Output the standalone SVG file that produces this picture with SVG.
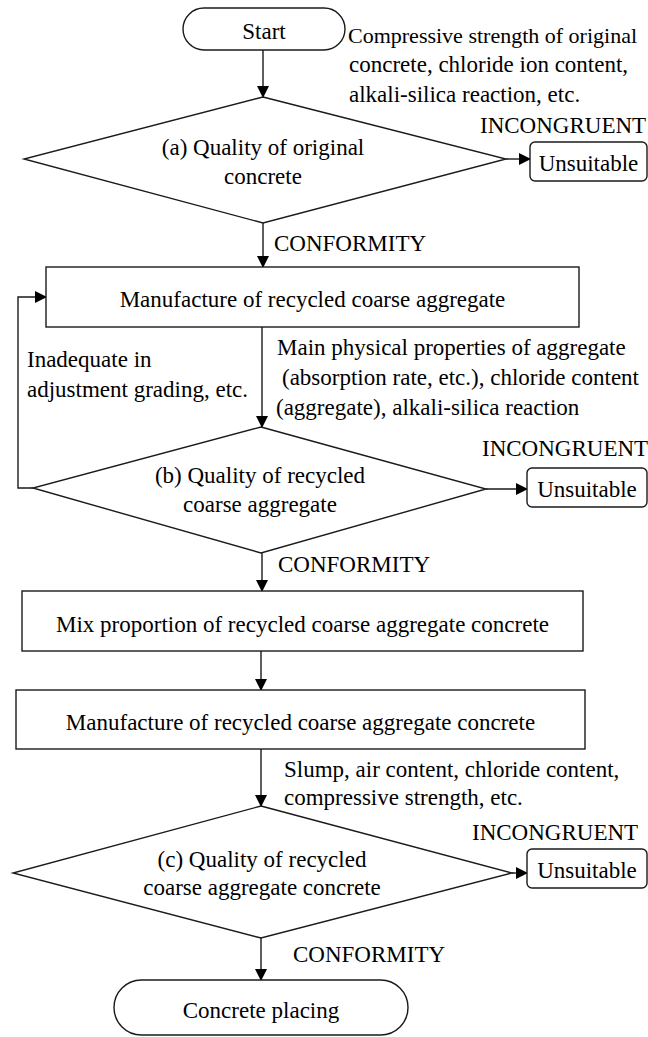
<svg xmlns="http://www.w3.org/2000/svg" width="648" height="1037" viewBox="0 0 648 1037">
<style>
text{font-family:"Liberation Serif","Times New Roman",serif;font-size:23px;fill:#000}
.c{text-anchor:middle}
.s{fill:#fff;stroke:#1a1a1a;stroke-width:1.4}
.l{fill:none;stroke:#1a1a1a;stroke-width:1.4}
</style>
<defs>
<marker id="ah" markerWidth="12" markerHeight="12" refX="11" refY="6" orient="auto" markerUnits="userSpaceOnUse">
<path d="M0,0 L12,6 L0,12 Z" fill="#000"/>
</marker>
</defs>
<rect width="648" height="1037" fill="#fff"/>
<g id="connectors">
<path class="l" d="M263,50 V97" marker-end="url(#ah)"/>
<path class="l" d="M506,159 H530" marker-end="url(#ah)"/>
<path class="l" d="M263,223 V267" marker-end="url(#ah)"/>
<path class="l" d="M262,327 V427" marker-end="url(#ah)"/>
<path class="l" d="M33,488 H18 V297 H46" marker-end="url(#ah)"/>
<path class="l" d="M486,489 H527" marker-end="url(#ah)"/>
<path class="l" d="M262,553 V591" marker-end="url(#ah)"/>
<path class="l" d="M261,651 V690" marker-end="url(#ah)"/>
<path class="l" d="M261,749 V806" marker-end="url(#ah)"/>
<path class="l" d="M512,873 H527" marker-end="url(#ah)"/>
<path class="l" d="M261,938 V980" marker-end="url(#ah)"/>
<text x="480" y="133">INCONGRUENT</text>
<text x="274" y="251">CONFORMITY</text>
<text x="27" y="367">Inadequate in</text>
<text x="27" y="397">adjustment grading, etc.</text>
<text x="277" y="355">Main physical properties of aggregate</text>
<text x="282" y="385">(absorption rate, etc.), chloride content</text>
<text x="276" y="415">(aggregate), alkali-silica reaction</text>
<text x="482" y="456">INCONGRUENT</text>
<text x="278" y="572">CONFORMITY</text>
<text x="284" y="777">Slump, air content, chloride content,</text>
<text x="284" y="805">compressive strength, etc.</text>
<text x="472" y="840">INCONGRUENT</text>
<text x="293" y="962">CONFORMITY</text>
</g>
<g id="start">
<rect class="s" x="183" y="8" width="162" height="42" rx="21"/>
<text class="c" x="264" y="39">Start</text>
</g>
<g id="note-a">
<text x="348" y="43" style="font-size:22px">Compressive strength of original</text>
<text x="349" y="72">concrete, chloride ion content,</text>
<text x="349" y="102">alkali-silica reaction, etc.</text>
</g>
<g id="decision-a">
<polygon class="s" points="263,97 506,159 263,223 24,159"/>
<text class="c" x="263" y="155">(a) Quality of original</text>
<text class="c" x="263" y="184">concrete</text>
</g>
<g id="unsuitable-a">
<rect class="s" x="530" y="142" width="117" height="39" rx="5"/>
<text class="c" x="588.5" y="171">Unsuitable</text>
</g>
<g id="manufacture-aggregate">
<rect class="s" x="46" y="267" width="533" height="60"/>
<text class="c" x="312.5" y="307">Manufacture of recycled coarse aggregate</text>
</g>
<g id="decision-b">
<polygon class="s" points="261,427 486,489 261,553 33,488"/>
<text class="c" x="260" y="483">(b) Quality of recycled</text>
<text class="c" x="260" y="512">coarse aggregate</text>
</g>
<g id="unsuitable-b">
<rect class="s" x="527" y="468" width="120" height="39" rx="5"/>
<text class="c" x="587" y="497">Unsuitable</text>
</g>
<g id="mix">
<rect class="s" x="22" y="591" width="561" height="60"/>
<text class="c" x="302.5" y="632">Mix proportion of recycled coarse aggregate concrete</text>
</g>
<g id="manufacture-concrete">
<rect class="s" x="16" y="690" width="569" height="59"/>
<text class="c" x="300.5" y="730">Manufacture of recycled coarse aggregate concrete</text>
</g>
<g id="decision-c">
<polygon class="s" points="261,806 512,873 261,938 13,873"/>
<text class="c" x="262" y="867">(c) Quality of recycled</text>
<text class="c" x="262" y="895">coarse aggregate concrete</text>
</g>
<g id="unsuitable-c">
<rect class="s" x="527" y="849" width="120" height="39" rx="5"/>
<text class="c" x="587" y="878">Unsuitable</text>
</g>
<g id="end">
<rect class="s" x="114" y="980" width="294" height="55" rx="27.5"/>
<text class="c" x="261" y="1018">Concrete placing</text>
</g>
</svg>
